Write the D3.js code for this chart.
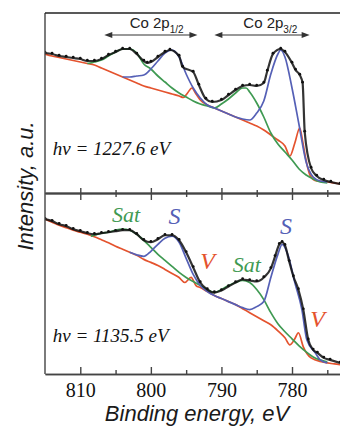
<!DOCTYPE html>
<html>
<head>
<meta charset="utf-8">
<script src="https://cdn.jsdelivr.net/npm/d3@7"></script>
<style>
  body { margin: 0; background: #fff; }
  svg { display: block; }
</style>
</head>
<body>
<div id="chart"></div>
<script>
// binding energy (eV), intensity (a.u.) pairs
var majorTicks = [810, 800, 790, 780];
var minorTicks = [805, 795, 785, 775];

// top panel, hv = 1227.6 eV
var topData = [[815,140],[814,139],[813,137],[812,136],[811,135],[810,134],[809,132],[808,132],[807,134],[806,138],[805,141],[804,144],[803,144],[802,139],[801,132],[800.5,130],[800,131],[799,136],[798,141],[797.3,143],[796,137],[795.5,126],[794,121],[793.2,108],[792.2,94],[791.3,91],[790,93],[789,98],[788,103],[787,107],[786,108],[785,107],[784,110],[783.5,122],[782.7,139],[781.6,144],[781,141],[780,130],[779.5,123],[778.9,118],[778.5,110],[778.2,61],[777.3,25],[776.5,17],[775.5,13],[774.5,11],[773.2,9]];
var topBg = [[815,139],[814,137],[813,135.5],[812,134],[811,132.5],[810,131],[809,129.5],[808,128],[807,125],[806,122],[805,119],[804,116],[803,113],[802,110],[801,107],[800,105],[799,103],[798,101],[797,99],[796,97],[795.4,95.5],[794.8,100],[794.2,105],[793.6,99],[793,93],[792,88],[791,85],[790,82],[789,79],[788,76],[787,73],[786,70],[785,67],[784,63],[783,58],[782,53],[781,47],[780.3,37],[779.6,50],[778.9,65],[778.5,52],[778.1,36],[777.4,17],[776.5,12],[775,11],[774,10],[773,9]];
var topSat = [[809,129.5],[808,131],[807,133],[806,137],[805,141],[804,144],[803,144],[802,140],[801,129],[800,124],[799,117],[798,111],[797,105],[796,100],[795,96],[794,92],[793,89],[792,87],[791,85],[790,89],[789,94],[788,100],[787,105],[786.5,105],[786,101],[785,90],[784,76],[783,60],[782,49],[781,41],[780,33],[779,24],[778,18],[777,14],[776,11],[775,10]];
var topMain = [[804,116],[803,116],[802,117],[801,118],[800,124],[799,132],[798,140],[797,143],[796,136],[795,119],[794,105],[793,95],[792,88],[791,85],[790,82],[789,79],[788,76],[787,74],[786,73],[785,80],[784,92],[783,119],[782,139],[781.6,143],[781,136],[780,105],[779,68],[778,31],[777,16],[776,12],[775,11]];

// bottom panel, hv = 1135.5 eV
var botData = [[815,154],[814,152],[813,149],[812,147],[811,144],[810,142],[809,140],[808,139],[807,140],[806,141],[805,142],[804,143],[803,143],[802,139],[801,133],[800,131],[799,134],[798,138],[797,138],[796,133],[795,121],[794,106],[793,91],[792,84],[791,81],[790,83],[789,87],[788,91],[787,94],[786,93],[785,92],[784,96],[783,105],[782.4,117],[781.8,129],[781.4,131],[781,128],[780.4,112],[779.8,97],[779.1,84],[778.4,64],[777.7,34],[777,24],[776.4,21],[775.5,16],[774.6,14],[773.2,11]];
var botBg = [[815,154],[814,151],[813,148],[812,145.5],[811,143],[810,141],[809,139],[808,136.5],[807,133.5],[806,130.5],[805,127],[804,124],[803,121],[802,118],[801,114],[800,111],[799,108],[798,104],[797,100],[796,96],[795.2,91],[794.3,96],[793.6,88],[793,86],[792,82],[791,78],[790,75],[789,72],[788,69],[787,65],[786,61],[785,57],[784,53],[783,49],[782,43],[781,36],[780.3,29],[779.6,35],[779.1,41],[778.4,27],[777.3,16],[775.7,12],[774,10],[773,9]];
var botSat = [[808.5,137],[808,138],[807,140],[806,141],[805,143],[804,144],[803,143],[802,139],[801,133],[800,126],[799,119],[798,113],[797,107],[796,101],[795,96],[794,92],[793,88],[792,84],[791,81],[790,84],[789,88],[788,91],[787,93],[786,91],[785,84],[784,74],[783,61],[782,50],[781,42],[780,35],[779,28],[778,22],[777,17],[776,14],[775,12]];
var botMain = [[803,121],[802,118.5],[801,117],[800,122],[799,129],[798,135],[797,137],[796,131],[795,115],[794,99],[793,88],[792,82],[791,78],[790,75],[789,72],[788,69],[787,66],[786,64],[785,67],[784,72],[783,96],[782,119],[781.4,129],[780.6,119],[779.6,91],[778.6,64],[777.9,34],[776.7,21],[776,14],[775,11]];

var bands = [
  {sub: "1/2", from: 806.6, to: 793.4, text: 803.0},
  {sub: "3/2", from: 791.0, to: 777.5, text: 786.9}
];
var topLabels = [{t: "h\u03bd = 1227.6 eV", e: 813.9, v: 38, c: "txt"}];
var botLabels = [
  {t: "Sat", e: 805.5, v: 151, c: "sat"},
  {t: "S", e: 797.5, v: 149, c: "main"},
  {t: "V", e: 793.0, v: 104, c: "bg"},
  {t: "Sat", e: 788.4, v: 101, c: "sat"},
  {t: "S", e: 781.7, v: 139, c: "main"},
  {t: "V", e: 777.4, v: 47, c: "bg"},
  {t: "h\u03bd = 1135.5 eV", e: 813.9, v: 32, c: "txt"}
];

var colors = {bg: "#e4532e", sat: "#3f9a52", main: "#5560b6", data: "#111", txt: "#111"};

var W = 340, H = 432;
var padLeft = 45, padTop = 13, midY = 193, padBottom = 374;

var svg = d3.select("#chart").append("svg")
  .attr("width", W).attr("height", H);

svg.append("defs").append("clipPath").attr("id", "plot-clip")
  .append("rect").attr("x", padLeft).attr("y", padTop)
  .attr("width", W - padLeft).attr("height", padBottom - padTop);

var x_scale = d3.scaleLinear().domain([815, 773.2]).range([padLeft, W]);
var y_top = d3.scaleLinear().domain([0, 180]).range([midY, padTop]);
var y_bot = d3.scaleLinear().domain([0, 180]).range([padBottom, midY]);

function drawPanel(y_scale, data, bg, sat, main) {
  var line = d3.line()
    .curve(d3.curveMonotoneX)
    .x(d => x_scale(d[0]))
    .y(d => y_scale(d[1]));
  var g = svg.append("g").attr("clip-path", "url(#plot-clip)");
  var series = [[bg, colors.bg], [sat, colors.sat], [main, colors.main]];
  series.forEach(s => {
    g.append("path").attr("d", line(s[0]))
      .attr("fill", "none").attr("stroke", s[1]).attr("stroke-width", 1.7);
  });
  // measured points drawn over the fit
  g.append("path").attr("d", line(data))
    .attr("fill", "none").attr("stroke", colors.data).attr("stroke-width", 2.2)
    .attr("opacity", 0.85);
  g.selectAll(".pt").data(data).enter().append("circle")
    .attr("class", "pt")
    .attr("cx", d => x_scale(d[0]))
    .attr("cy", d => y_scale(d[1]) - 0.8)
    .attr("r", 1.4)
    .attr("fill", colors.data);
}

drawPanel(y_top, topData, topBg, topSat, topMain);
drawPanel(y_bot, botData, botBg, botSat, botMain);

// frame
var axisColor = "#444";
svg.append("line").attr("x1", padLeft).attr("x2", padLeft).attr("y1", padTop).attr("y2", padBottom)
  .attr("stroke", axisColor).attr("stroke-width", 1.4);
svg.append("line").attr("x1", padLeft).attr("x2", W).attr("y1", padTop).attr("y2", padTop)
  .attr("stroke", "#222").attr("stroke-width", 1.4);

function styleAxis(g) {
  g.selectAll("path, line").attr("stroke", axisColor).attr("stroke-width", 1.4);
  g.selectAll("text").remove();
}

// middle separator: ticks on both sides
[[d3.axisBottom, majorTicks, 7], [d3.axisTop, majorTicks, 5],
 [d3.axisBottom, minorTicks, 4], [d3.axisTop, minorTicks, 3]].forEach(a => {
  svg.append("g").attr("transform", "translate(0," + midY + ")")
    .call(a[0](x_scale).tickValues(a[1]).tickSizeInner(a[2]).tickSizeOuter(0))
    .call(styleAxis);
});

// bottom axis, ticks pointing in
svg.append("g").attr("transform", "translate(0," + padBottom + ")")
  .call(d3.axisBottom(x_scale).tickValues(minorTicks).tickSizeInner(-4).tickSizeOuter(0))
  .call(styleAxis);
var xAxis = svg.append("g").attr("transform", "translate(0," + padBottom + ")")
  .call(d3.axisBottom(x_scale).tickValues(majorTicks).tickSizeInner(-7).tickSizeOuter(0).tickPadding(9));
xAxis.selectAll("path, line").attr("stroke", axisColor).attr("stroke-width", 1.4);
xAxis.selectAll("text")
  .attr("fill", "#111")
  .style("font-family", "'Liberation Serif', 'Times New Roman', serif")
  .style("font-size", "20px");

// axis titles
svg.append("text")
  .attr("transform", "rotate(-90)")
  .attr("x", -186).attr("y", 33)
  .attr("text-anchor", "middle")
  .style("font-family", "'Liberation Sans', Arial, sans-serif")
  .style("font-style", "italic")
  .style("font-size", "22px")
  .attr("fill", "#1a1a1a")
  .text("Intensity, a.u.");
svg.append("text")
  .attr("x", 197).attr("y", 421)
  .attr("text-anchor", "middle")
  .style("font-family", "'Liberation Sans', Arial, sans-serif")
  .style("font-style", "italic")
  .style("font-size", "22px")
  .attr("fill", "#1a1a1a")
  .text("Binding energy, eV");

// Co 2p bands with double arrows
var arrowY = 35;
bands.forEach(b => {
  var x1 = x_scale(b.from), x2 = x_scale(b.to);
  svg.append("line").attr("x1", x1 + 4).attr("x2", x2 - 4).attr("y1", arrowY).attr("y2", arrowY)
    .attr("stroke", "#333").attr("stroke-width", 1.1);
  svg.append("path")
    .attr("d", "M" + x1 + "," + arrowY + "l8,-3l0,6z M" + x2 + "," + arrowY + "l-8,-3l0,6z")
    .attr("fill", "#333");
  var t = svg.append("text")
    .attr("x", x_scale(b.text)).attr("y", 28)
    .style("font-family", "'Liberation Sans', Arial, sans-serif")
    .style("font-size", "15px")
    .attr("fill", "#222");
  t.append("tspan").text("Co 2p");
  t.append("tspan").attr("dy", 5).style("font-size", "10px").text(b.sub);
});

function drawLabels(labels, y_scale) {
  svg.selectAll(null).data(labels).enter().append("text")
    .attr("x", d => x_scale(d.e))
    .attr("y", d => y_scale(d.v))
    .style("font-family", "'Liberation Serif', 'Times New Roman', serif")
    .style("font-style", "italic")
    .style("font-size", d => d.c == "txt" ? "19px" : (d.t == "Sat" ? "22px" : "24px"))
    .attr("fill", d => colors[d.c])
    .text(d => d.t);
}
drawLabels(topLabels, y_top);
drawLabels(botLabels, y_bot);
</script>
</body>
</html>
